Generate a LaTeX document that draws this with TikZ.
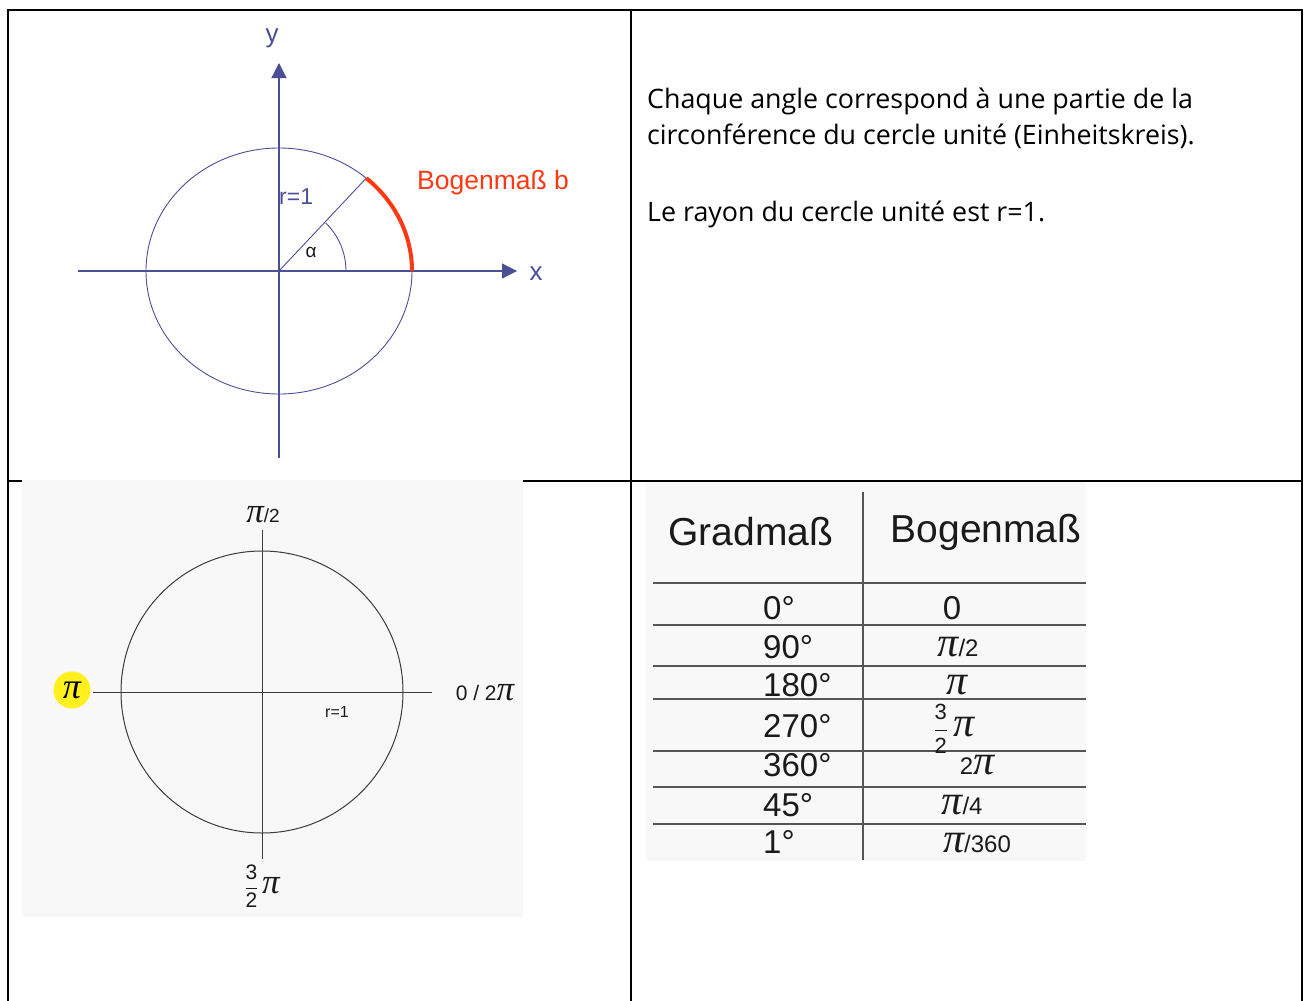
\documentclass[tikz,border=0pt]{standalone}
\usepackage{fontspec}
\setmainfont{Liberation Sans}
\newfontfamily\notefont{Open Sans}
\newfontfamily\pifont{Liberation Serif}
\definecolor{ucInk}{HTML}{1A1A1A}
\definecolor{ucBlue}{HTML}{4A4F96}
\definecolor{ucRed}{HTML}{FF3814}
\definecolor{ucPaper}{HTML}{F8F8F8}
\definecolor{ucRule}{HTML}{555555}
\definecolor{ucSun}{HTML}{FFF01E}
\usetikzlibrary{arrows.meta}
\newcommand{\fs}[1]{\fontsize{#1}{#1}\selectfont}
\newcommand{\pii}{{\pifont\itshape π}}
\newcommand{\halfs}[1]{$\displaystyle\frac{\mbox{\fs{#1}3}}{\mbox{\fs{#1}2}}$}

\begin{document}
\begin{tikzpicture}[x=1pt,y=1pt,
  cellrule/.style={line width=2pt,black},
  bluerule/.style={ucBlue,line width=0.9pt},
  greyrule/.style={ucInk!85,line width=1pt},
  tabrule/.style={ucRule,line width=1.3pt},
  bluelab/.style={text=ucBlue,inner sep=0pt},
  plainlab/.style={text=ucInk,inner sep=0pt},
  headlab/.style={plainlab,font=\fs{39}},
  rowlab/.style={plainlab,font=\fs{33}},
  >={Triangle[length=15pt,width=15pt]}
]
\useasboundingbox (0,0) rectangle (1309,-1001);

% frame of the two by two table
\draw[cellrule] (8,-1001) -- (8,-10) -- (1302,-10) -- (1302,-1001);
\draw[cellrule] (631,-10) -- (631,-1001);
\draw[cellrule] (8,-481) -- (1302,-481);

% unit circle, top left
\coordinate (o) at (279,-271);
\coordinate (xa) at (78,-271);
\coordinate (xb) at (517,-271);
\coordinate (ya) at (279,-458);
\coordinate (yb) at (279,-63);
\draw[bluerule,line width=1.2pt,->] (xa) -- (xb);
\draw[bluerule,line width=1.2pt,->] (ya) -- (yb);
\draw[bluerule] (o) ellipse [x radius=133,y radius=123];
\path (o) ++(49:133 and 123) coordinate (p);
\draw[bluerule] (o) -- (p);
\draw[bluerule] (o) ++(0:67) arc[start angle=0,end angle=46,radius=67];
\draw[ucRed,line width=4pt] (o) ++(0:133 and 123) arc[start angle=0,end angle=49,x radius=133,y radius=123];
\node[bluelab,font=\fs{26}] (ylab) at (272,-38) {y};
\node[bluelab,font=\fs{26}] (xlab) at (536,-274) {x};
\node[bluelab,font=\fs{23},anchor=west] (rlab) at (279,-197) {r=1};
\node[plainlab,font=\fs{19}] (alab) at (311,-252) {α};
\node[inner sep=0pt,text=ucRed,font=\fs{26.5}] (blab) at (493,-183) {Bogenmaß b};

% explanation, top right
\node[font=\notefont\fs{26.8},anchor=west,inner sep=0pt] (note1) at (647,-101) {Chaque angle correspond à une partie de la};
\node[font=\notefont\fs{26.8},anchor=west,inner sep=0pt] (note2) at (647,-136) {circonférence du cercle unité (Einheitskreis).};
\node[font=\notefont\fs{26.8},anchor=west,inner sep=0pt] (note3) at (647,-214) {Le rayon du cercle unité est r=1.};

% radian circle, bottom left
\fill[ucPaper] (22,-480) rectangle (523,-917);
\coordinate (c) at (262,-692);
\coordinate (ha) at (93,-692);
\coordinate (hb) at (432,-692);
\coordinate (va) at (262,-530);
\coordinate (vb) at (262,-859);
\draw[greyrule] (c) circle[radius=141];
\draw[greyrule] (ha) -- (hb);
\draw[greyrule] (va) -- (vb);
\node[plainlab,font=\fs{35}] (quarter) at (263,-515) {\pii\fs{19}/2};
\node[plainlab,font=\fs{21}] (zero) at (485,-693) {0 / 2\fs{35}\pii};
\node[plainlab,font=\fs{16}] (rone) at (337,-712) {r=1};
\node[circle,fill=ucSun,minimum size=37pt,inner sep=0pt,font=\fs{36}] (half) at (72,-690) {\pii};
\node[plainlab,font=\fs{21}] (threeq) at (262,-886) {\halfs{21}\,\fs{35}\pii};

% conversion table, bottom right
\fill[ucPaper] (646,-482) rectangle (1086,-861);
\draw[tabrule] (863,-492) -- (863,-860);
\foreach \y in {583,625,666,699,751,787,824}
  \draw[tabrule] (653,-\y) -- (1086,-\y);
\node[headlab] (gradhead) at (751,-532) {Gradmaß};
\node[headlab] (bogenhead) at (986,-532) {Bogenmaß};
\foreach \n/\y/\deg in {1/608/0°,2/647/90°,3/685/180°,4/726/270°,5/765/360°,6/805/45°,7/842/1°}
  \node[rowlab,anchor=west] (deg\n) at (763,-\y) {\deg};
\foreach \n/\x/\y/\rad in {1/952/608/0,2/958/647/{\fs{42}\pii\fs{24}/2},3/957/685/{\fs{42}\pii},
    4/954/729/{\halfs{22}\,\fs{42}\pii},5/977/765/{\fs{24}2\fs{42}\pii},6/962/805/{\fs{42}\pii\fs{24}/4},7/977/843/{\fs{42}\pii\fs{24}/360}}
  \node[rowlab] (rad\n) at (\x,-\y) {\rad};
\end{tikzpicture}
\end{document}
